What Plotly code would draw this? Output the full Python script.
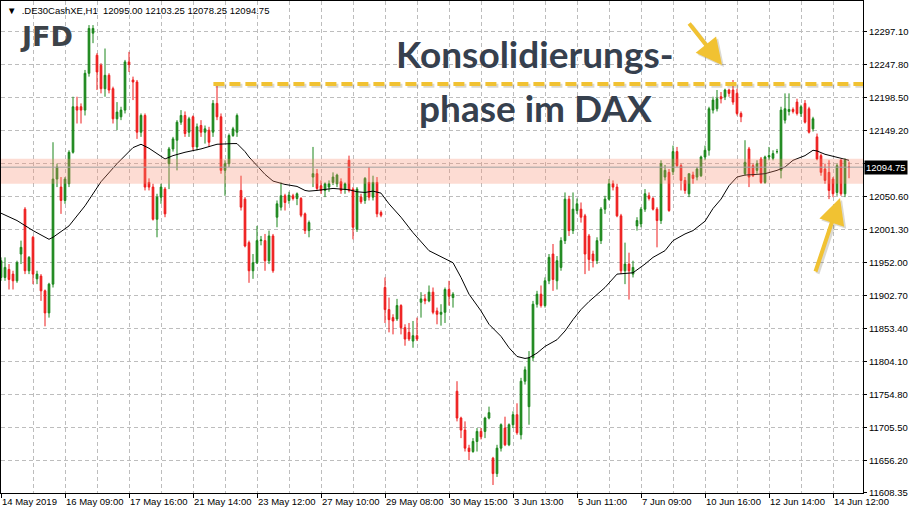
import plotly.graph_objects as go

# ---------------- data ----------------
BARS = list(range(1, 214))  # hourly bar number, 14 May 12:00 ... 14 Jun 17:00

OPEN = [11930, 11930, 11942, 11935, 11925, 11965, 12032, 11940, 11990, 11928,
        11932, 11910, 11877, 11920, 12077, 12065, 12045, 12070, 12117, 12185,
        12185, 12180, 12235, 12295, 12262, 12247, 12212, 12232, 12212, 12167,
        12170, 12180, 12252, 12225, 12222, 12147, 12172, 12072, 12065, 12017,
        12050, 12062, 12100, 12122, 12135, 12162, 12172, 12147, 12170, 12125,
        12157, 12147, 12150, 12147, 12190, 12170, 12090, 12100, 12142, 12147,
        12060, 12047, 11982, 11940, 11952, 11985, 11985, 11955, 11992, 12020,
        12035, 12052, 12045, 12052, 12048, 12048, 12025, 12000, 12080, 12085,
        12067, 12060, 12065, 12072, 12070, 12073, 12062, 12105, 12062, 12002,
        12050, 12045, 12072, 12050, 12072, 12027, 11915, 11882, 11870, 11868,
        11888, 11855, 11848, 11835, 11843, 11893, 11898, 11895, 11908, 11880,
        11875, 11878, 11912, 11900, 11760, 11720, 11702, 11675, 11670, 11685,
        11700, 11700, 11720, 11660, 11637, 11675, 11705, 11680, 11710, 11725,
        11695, 11775, 11737, 11810, 11890, 11905, 11888, 11925, 11965, 11925,
        11945, 11985, 12047, 12000, 12030, 12032, 12022, 11992, 11965, 11955,
        11985, 12032, 12047, 12070, 12065, 12022, 11940, 11950, 11935, 12007,
        12010, 12032, 12052, 12048, 12032, 12015, 12080, 12087, 12088, 12118,
        12097, 12075, 12055, 12083, 12080, 12082, 12110, 12120, 12180, 12182,
        12200, 12200, 12210, 12210, 12205, 12175, 12085, 12122, 12097, 12090,
        12107, 12072, 12110, 12108, 12118, 12090, 12165, 12178, 12181, 12192,
        12175, 12190, 12182, 12152, 12140, 12112, 12092, 12087, 12077, 12057,
        12105, 12055, 12095]

HIGH = [11960, 11960, 11950, 11940, 11955, 11985, 12035, 11962, 11992, 11940,
        11935, 11912, 11922, 12132, 12100, 12080, 12080, 12120, 12200, 12200,
        12190, 12240, 12307, 12307, 12265, 12250, 12272, 12235, 12215, 12192,
        12185, 12255, 12267, 12230, 12225, 12175, 12175, 12078, 12070, 12055,
        12070, 12065, 12125, 12140, 12165, 12180, 12178, 12170, 12172, 12160,
        12165, 12157, 12155, 12195, 12216, 12175, 12105, 12145, 12155, 12175,
        12082, 12050, 11985, 11965, 12007, 11992, 11995, 12000, 11995, 12045,
        12072, 12055, 12058, 12055, 12057, 12050, 12027, 12015, 12125, 12092,
        12075, 12072, 12075, 12087, 12085, 12078, 12072, 12112, 12065, 12065,
        12055, 12080, 12095, 12082, 12080, 12030, 11930, 11900, 11875, 11898,
        11890, 11860, 11862, 11865, 11870, 11908, 11905, 11918, 11915, 11885,
        11890, 11915, 11925, 11908, 11775, 11722, 11715, 11680, 11690, 11705,
        11705, 11722, 11737, 11662, 11680, 11712, 11722, 11712, 11730, 11742,
        11780, 11797, 11820, 11895, 11910, 11918, 11930, 11965, 11980, 11962,
        11990, 12057, 12052, 12057, 12048, 12042, 12025, 11995, 11970, 11990,
        12035, 12052, 12077, 12075, 12070, 12025, 11982, 11967, 11955, 12020,
        12035, 12062, 12057, 12050, 12035, 12105, 12098, 12092, 12127, 12125,
        12100, 12080, 12085, 12088, 12095, 12112, 12127, 12185, 12200, 12210,
        12207, 12212, 12212, 12225, 12212, 12178, 12135, 12125, 12100, 12105,
        12110, 12112, 12125, 12120, 12122, 12185, 12205, 12205, 12184, 12197,
        12188, 12195, 12185, 12170, 12145, 12115, 12100, 12105, 12080, 12100,
        12107, 12108, 12103.25]

LOW = [11925, 11925, 11912, 11912, 11922, 11950, 11935, 11935, 11920, 11920,
       11895, 11857, 11870, 11915, 12065, 12025, 12040, 12065, 12115, 12160,
       12160, 12172, 12230, 12280, 12210, 12205, 12200, 12205, 12160, 12150,
       12165, 12175, 12237, 12195, 12137, 12140, 12060, 12060, 12015, 11990,
       12040, 12020, 12062, 12118, 12090, 12158, 12140, 12140, 12120, 12120,
       12140, 12130, 12125, 12140, 12165, 12085, 12052, 12095, 12140, 12140,
       12030, 11975, 11922, 11928, 11950, 11978, 11940, 11950, 11937, 12005,
       12030, 12030, 12040, 12045, 12038, 12020, 11995, 11990, 12065, 12060,
       12055, 12050, 12058, 12068, 12065, 12055, 12055, 12057, 11987, 11998,
       12040, 12040, 12045, 12045, 12020, 12020, 11862, 11848, 11845, 11865,
       11845, 11828, 11835, 11825, 11835, 11870, 11890, 11893, 11875, 11860,
       11858, 11862, 11888, 11885, 11715, 11690, 11670, 11657, 11668, 11670,
       11688, 11690, 11718, 11620, 11632, 11670, 11678, 11678, 11705, 11695,
       11688, 11770, 11710, 11805, 11885, 11885, 11885, 11920, 11910, 11912,
       11940, 11980, 11992, 11995, 12025, 12012, 11935, 11940, 11945, 11950,
       11980, 12025, 12045, 12060, 12020, 11935, 11920, 11897, 11930, 12000,
       12005, 12028, 12045, 12030, 11975, 12010, 12075, 12028, 12083, 12095,
       12060, 12055, 12050, 12070, 12075, 12080, 12105, 12112, 12175, 12178,
       12190, 12195, 12200, 12188, 12172, 12162, 12082, 12065, 12080, 12085,
       12070, 12070, 12105, 12105, 12115, 12078, 12160, 12172, 12175, 12172,
       12170, 12160, 12145, 12148, 12105, 12082, 12070, 12047, 12050, 12052,
       12052, 12050, 12078.25]

CLOSE = [11955, 11945, 11927, 11925, 11952, 11975, 11940, 11960, 11935, 11935,
         11910, 11877, 11920, 12077, 12095, 12045, 12077, 12117, 12185, 12180,
         12180, 12235, 12302, 12302, 12237, 12212, 12232, 12210, 12167, 12177,
         12180, 12252, 12248, 12222, 12147, 12172, 12065, 12065, 12017, 12050,
         12065, 12025, 12122, 12137, 12162, 12172, 12145, 12167, 12125, 12155,
         12147, 12152, 12132, 12190, 12170, 12090, 12100, 12142, 12152, 12172,
         12035, 11977, 11940, 11952, 11985, 11986, 11955, 11992, 11940, 12040,
         12052, 12042, 12053, 12048, 12055, 12023, 12000, 12012, 12085, 12063,
         12060, 12070, 12070, 12080, 12083, 12060, 12070, 12060, 12005, 12062,
         12043, 12078, 12050, 12072, 12025, 12023, 11882, 11867, 11865, 11888,
         11855, 11838, 11838, 11843, 11838, 11898, 11895, 11908, 11878, 11875,
         11878, 11912, 11902, 11905, 11720, 11702, 11675, 11670, 11685, 11700,
         11692, 11720, 11728, 11637, 11675, 11710, 11680, 11710, 11725, 11698,
         11775, 11792, 11810, 11890, 11905, 11888, 11925, 11960, 11927, 11955,
         11985, 12047, 12000, 12032, 12040, 12020, 11965, 11957, 11955, 11985,
         12032, 12047, 12070, 12065, 12022, 11940, 11950, 11940, 11945, 12015,
         12032, 12055, 12048, 12032, 12015, 12100, 12090, 12030, 12118, 12097,
         12075, 12060, 12085, 12078, 12092, 12110, 12120, 12182, 12195, 12197,
         12197, 12210, 12205, 12192, 12175, 12170, 12102, 12080, 12082, 12100,
         12072, 12110, 12112, 12115, 12118, 12180, 12182, 12181, 12178, 12175,
         12185, 12162, 12147, 12167, 12107, 12087, 12075, 12060, 12055, 12097,
         12055, 12105, 12094.75]

# moving average line (at these bar positions)
MA_X = [1, 5, 9, 13, 14, 18, 22, 26, 30, 32, 34, 36, 38, 40, 42, 44, 47, 51, 55, 59,
        60, 62, 63, 65, 67, 69, 72, 74, 75, 77, 78, 80, 82, 84, 86, 88, 90, 92, 94, 96,
        98, 101, 104, 108, 114, 116, 118, 121, 123, 126, 128, 130, 132, 133, 135, 137,
        140, 142, 144, 146, 148, 152, 155, 159, 162, 164, 167, 169, 172, 174, 177, 179,
        181, 183, 185, 187, 190, 192, 195, 197, 199, 202, 204, 205, 207, 210, 212, 213]
MA_Y = [12026, 12015, 12000, 11987, 11990, 12007, 12037, 12073, 12100, 12112,
        12124, 12129, 12123, 12115, 12107, 12112, 12117, 12122, 12129, 12130,
        12130, 12118, 12110, 12097, 12084, 12074, 12069, 12067, 12066, 12060,
        12059, 12060, 12062, 12063, 12062, 12061, 12058, 12057, 12059, 12056,
        12040, 12020, 11997, 11970, 11952, 11930, 11905, 11880, 11860, 11842,
        11825, 11812, 11809, 11810, 11817, 11827, 11837, 11850, 11867, 11882,
        11894, 11915, 11935, 11937, 11950, 11960, 11970, 11985, 11995, 12000,
        12014, 12033, 12047, 12067, 12080, 12083, 12084, 12085, 12090, 12095,
        12105, 12112, 12120, 12119, 12114, 12109, 12106, 12105]

TICK_BARS = [1, 17, 33, 49, 65, 81, 97, 113, 129, 145, 161, 177, 193, 209]
TICK_LABELS = ["14 May 2019", "16 May 09:00", "17 May 16:00", "21 May 14:00",
               "23 May 12:00", "27 May 10:00", "29 May 08:00", "30 May 15:00",
               "3 Jun 13:00", "5 Jun 11:00", "7 Jun 09:00", "10 Jun 16:00",
               "12 Jun 14:00", "14 Jun 12:00"]
GRID_BARS_MINOR = [9, 25, 41, 57, 73, 89, 105, 121, 137, 153, 169, 185, 201]

PRICE_TICKS = [12297.10, 12247.80, 12198.50, 12149.20, 12099.90, 12050.60, 12001.30,
               11952.00, 11902.70, 11853.40, 11804.10, 11754.80, 11705.50, 11656.20,
               11608.35]
PRICE_LABELS = ["12297.10", "12247.80", "12198.50", "12149.20", "", "12050.60",
                "12001.30", "11952.00", "11902.70", "11853.40", "11804.10",
                "11754.80", "11705.50", "11656.20", "11608.35"]

LAST_PRICE = 12094.75
ZONE_LOW, ZONE_HIGH = 12070.0, 12107.5
RESISTANCE = 12219.0
HEADER = "\u25bc\u00a0\u00a0.DE30CashXE,H1\u00a0\u00a012095.00 12103.25 12078.25 12094.75"

# ---------------- styling ----------------
W, H = 909, 516
ML, MR, MT, MB = 1, 46, 1, 23
PW, PH = W - ML - MR, H - MT - MB
GREEN = "#1a861a"
RED = "#ee1c1c"
GOLD = "#f1c232"
SLATE = "#36404e"
FONT = "Liberation Sans, Arial, sans-serif"


def px(xp):
    return (xp - ML) / PW


def py(yp):
    return 1 - (yp - MT) / PH


fig = go.Figure()
fig.add_trace(go.Candlestick(
    x=BARS, open=OPEN, high=HIGH, low=LOW, close=CLOSE,
    increasing=dict(line=dict(color=GREEN, width=1), fillcolor=GREEN),
    decreasing=dict(line=dict(color=RED, width=1), fillcolor=RED),
    whiskerwidth=0, showlegend=False, hoverinfo="skip"))
fig.add_trace(go.Scatter(x=MA_X, y=MA_Y, mode="lines",
                         line=dict(color="black", width=1),
                         showlegend=False, hoverinfo="skip"))

shapes = [
    # consolidation zone
    dict(type="rect", xref="paper", yref="y", x0=0, x1=1, y0=ZONE_LOW, y1=ZONE_HIGH,
         fillcolor="rgba(248,140,110,0.30)", line=dict(width=0), layer="above"),
    # bid line
    dict(type="line", xref="paper", yref="y", x0=0, x1=1, y0=LAST_PRICE, y1=LAST_PRICE,
         line=dict(color="#a0a0a0", width=1), layer="above"),
    # resistance dashed line: shadow + line
    dict(type="line", xref="x", yref="y", x0=54.6, x1=216.5, y0=RESISTANCE - 2.5,
         y1=RESISTANCE - 2.5, line=dict(color="rgba(90,80,40,0.22)", width=4,
                                          dash="11px,5px"), layer="above"),
    dict(type="line", xref="x", yref="y", x0=54.1, x1=216.5, y0=RESISTANCE,
         y1=RESISTANCE, line=dict(color=GOLD, width=4, dash="11px,5px"), layer="above"),
]

annotations = [
    dict(text=HEADER, xref="paper", yref="paper", x=px(5), y=py(10), xanchor="left",
         yanchor="middle", showarrow=False, font=dict(family=FONT, size=9.5, color="black")),
    dict(text="<b>JFD</b>", xref="paper", yref="paper", x=px(46), y=py(37),
         xanchor="center", yanchor="middle", showarrow=False,
         font=dict(family="DejaVu Sans", size=27, color="#3d4349")),
    dict(text="<b>Konsolidierungs-</b>", xref="paper", yref="paper", x=px(535), y=py(54),
         xanchor="center", yanchor="middle", showarrow=False,
         font=dict(family="Lato", size=37, color=SLATE)),
    dict(text="<b>phase im DAX</b>", xref="paper", yref="paper", x=px(535), y=py(107),
         xanchor="center", yanchor="middle", showarrow=False,
         font=dict(family="Lato", size=37, color=SLATE)),
    dict(text="12094.75", xref="paper", yref="y", x=px(864), y=LAST_PRICE,
         xanchor="left", yanchor="middle", showarrow=False, bgcolor="black",
         borderpad=1, font=dict(family=FONT, size=9.5, color="white")),
]

for (hx, hy, tx, ty) in [(722, 65, 688, 22), (840, 198, 815, 273)]:
    annotations.append(dict(text="", xref="paper", yref="paper", x=px(hx + 2), y=py(hy + 2),
                            ax=tx - hx, ay=ty - hy, showarrow=True, arrowhead=2,
                            arrowsize=1.3, arrowwidth=4, standoff=0,
                            arrowcolor="rgba(80,70,30,0.2)"))
    annotations.append(dict(text="", xref="paper", yref="paper", x=px(hx), y=py(hy),
                            ax=tx - hx, ay=ty - hy, showarrow=True, arrowhead=2,
                            arrowsize=1.3, arrowwidth=4, standoff=0, arrowcolor=GOLD))

fig.update_layout(
    width=W, height=H, margin=dict(l=ML, r=MR, t=MT, b=MB, autoexpand=False),
    paper_bgcolor="white", plot_bgcolor="white",
    shapes=shapes, annotations=annotations, showlegend=False,
    boxgap=0.4,
    xaxis=dict(range=[1, 216.5], rangeslider=dict(visible=False),
               tickvals=TICK_BARS, ticktext=TICK_LABELS, ticks="outside", ticklen=4,
               tickangle=0, automargin=False,
               tickcolor="black", ticklabelposition="outside right",
               tickfont=dict(family=FONT, size=9.5, color="black"),
               showline=True, linecolor="black", linewidth=1, mirror=True,
               showgrid=True, gridcolor="#bdbdbd", griddash="4px,3px", gridwidth=1,
               minor=dict(tickvals=GRID_BARS_MINOR, showgrid=True, gridcolor="#bdbdbd",
                          griddash="4px,3px", ticklen=0),
               zeroline=False, fixedrange=True),
    yaxis=dict(side="right", range=[11608.0, 12343.0], automargin=False,
               tickvals=PRICE_TICKS, ticktext=PRICE_LABELS, ticks="outside", ticklen=3,
               tickcolor="black", tickfont=dict(family=FONT, size=9.5, color="black"),
               showline=True, linecolor="black", linewidth=1, mirror=True,
               showgrid=True, gridcolor="#bdbdbd", griddash="4px,3px", gridwidth=1,
               zeroline=False, fixedrange=True),
)

fig.write_html("out.html", config={"displayModeBar": False},
               post_script="document.body.style.margin='0';document.body.style.overflow='hidden';")
